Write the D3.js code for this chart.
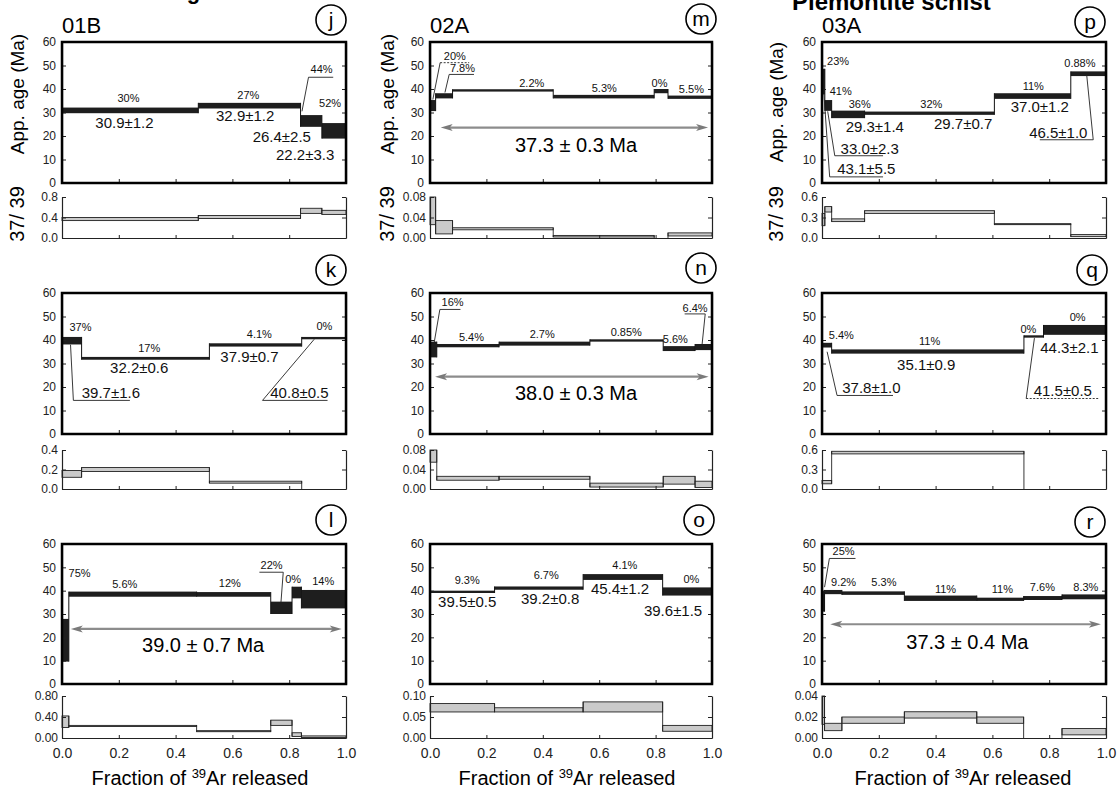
<!DOCTYPE html>
<html lang="en">
<head>
<meta charset="UTF-8" />
<title>39Ar-40Ar age spectra</title>
<script src="https://cdn.jsdelivr.net/npm/d3@7"></script>
<style>
  body { margin: 0; background: #fff; }
  svg { font-family: "Liberation Sans", Arial, Helvetica, sans-serif; }
</style>
</head>
<body>
<script>

// ---- data: cumulative 39Ar fraction, age boxes (Ma), 37/39 boxes, labels ----

// 01B (j)
var fracJ  = [0, 0.48, 0.84, 0.915, 1];
var ageJ   = [[29.7, 32.1], [31.7, 34.1], [23.9, 28.9], [18.9, 25.5]];
var ratioJ = [[0.34, 0.40], [0.38, 0.44], [0.48, 0.58], [0.46, 0.54]];
var rTicksJ = [0, 0.4, 0.8];
var pctJ  = ["30%", "27%", "44%", "52%"];
var agesJ = ["30.9±1.2", "32.9±1.2", "26.4±2.5", "22.2±3.3"];

// 02A (m)
var fracM  = [0, 0.02, 0.08, 0.437, 0.795, 0.844, 1];
var ageM   = [[30.6, 35.3], [36.0, 38.2], [38.9, 39.9], [36.0, 37.5], [38.2, 40.0], [35.8, 37.2]];
var ratioM = [[0.026, 0.080], [0.008, 0.034], [0.016, 0.020], [0.002, 0.005], [0, 0], [0.004, 0.010]];
var rTicksM = [0, 0.04, 0.08];
var pctM  = ["20%", "7.8%", "2.2%", "5.3%", "0%", "5.5%"];
var agesM = [];
var plateauM = "37.3 ± 0.3 Ma";

// 03A (p)
var fracP  = [0, 0.01, 0.034, 0.15, 0.607, 0.876, 1];
var ageP   = [[37.6, 48.6], [30.7, 35.3], [27.6, 30.8], [29.0, 30.4], [35.8, 38.2], [45.5, 47.5]];
var ratioP = [[0.18, 0.36], [0.38, 0.46], [0.24, 0.28], [0.36, 0.40], [0.20, 0.21], [0.02, 0.05]];
var rTicksP = [0, 0.3, 0.6];
var pctP  = ["23%", "41%", "36%", "32%", "11%", "0.88%"];
var agesP = ["43.1±5.5", "33.0±2.3", "29.3±1.4", "29.7±0.7", "37.0±1.2", "46.5±1.0"];

// 01B (k)
var fracK  = [0, 0.069, 0.519, 0.844, 1];
var ageK   = [[38.1, 41.3], [31.6, 32.8], [37.2, 38.6], [40.3, 41.3]];
var ratioK = [[0.12, 0.19], [0.18, 0.22], [0.06, 0.08], [0, 0]];
var rTicksK = [0, 0.2, 0.4];
var pctK  = ["37%", "17%", "4.1%", "0%"];
var agesK = ["39.7±1.6", "32.2±0.6", "37.9±0.7", "40.8±0.5"];

// 02A (n)
var fracN  = [0, 0.024, 0.245, 0.567, 0.827, 0.94, 1];
var ageN   = [[32.6, 39.3], [36.9, 38.3], [37.6, 39.3], [39.3, 40.3], [35.3, 37.4], [35.7, 38.3]];
var ratioN = [[0.055, 0.080], [0.018, 0.026], [0.020, 0.026], [0.004, 0.012], [0.010, 0.026], [0.003, 0.016]];
var rTicksN = [0, 0.04, 0.08];
var pctN  = ["16%", "5.4%", "2.7%", "0.85%", "5.6%", "6.4%"];
var agesN = [];
var plateauN = "38.0 ± 0.3 Ma";

// 03A (q)
var fracQ  = [0, 0.034, 0.711, 0.78, 1];
var ageQ   = [[36.8, 38.8], [34.2, 36.0], [41.0, 42.0], [42.2, 46.4]];
var ratioQ = [[0.08, 0.13], [0.54, 0.58], [0, 0], [0, 0]];
var rTicksQ = [0, 0.3, 0.6];
var pctQ  = ["5.4%", "11%", "0%", "0%"];
var agesQ = ["37.8±1.0", "35.1±0.9", "41.5±0.5", "44.3±2.1"];

// 01B (l)
var fracL  = [0, 0.024, 0.474, 0.735, 0.81, 0.843, 1];
var ageL   = [[9.6, 27.9], [37.4, 39.6], [37.4, 39.4], [30.0, 35.3], [36.7, 41.7], [32.4, 40.3]];
var ratioL = [[0.20, 0.42], [0.22, 0.24], [0.12, 0.14], [0.24, 0.34], [0.03, 0.10], [0.01, 0.04]];
var rTicksL = [0, 0.4, 0.8];
var pctL  = ["75%", "5.6%", "12%", "22%", "0%", "14%"];
var agesL = [];
var plateauL = "39.0 ± 0.7 Ma";

// 02A (o)
var fracO  = [0, 0.229, 0.543, 0.825, 1];
var ageO   = [[39.0, 40.0], [40.4, 41.8], [44.6, 47.1], [37.9, 41.4]];
var ratioO = [[0.062, 0.082], [0.062, 0.072], [0.062, 0.086], [0.016, 0.030]];
var rTicksO = [0, 0.05, 0.10];
var pctO  = ["9.3%", "6.7%", "4.1%", "0%"];
var agesO = ["39.5±0.5", "39.2±0.8", "45.4±1.2", "39.6±1.5"];

// 03A (r)
var fracR  = [0, 0.009, 0.07, 0.29, 0.545, 0.71, 0.845, 1];
var ageR   = [[31.0, 40.0], [38.5, 40.3], [38.2, 39.7], [35.6, 37.9], [35.6, 37.0], [36.0, 37.7], [36.3, 38.4]];
var ratioR = [[0.013, 0.040], [0.007, 0.014], [0.014, 0.020], [0.019, 0.025], [0.014, 0.020], [0, 0], [0.003, 0.009]];
var rTicksR = [0, 0.02, 0.04];
var pctR  = ["25%", "9.2%", "5.3%", "11%", "11%", "7.6%", "8.3%"];
var agesR = [];
var plateauR = "37.3 ± 0.4 Ma";

var ageTicks = [0, 10, 20, 30, 40, 50, 60];
var fracTicks = [0, 0.2, 0.4, 0.6, 0.8, 1.0];
var samples = ["01B", "02A", "03A"];

// ---- layout ----
var colX = [[62, 346], [430, 712], [822, 1106]];
var ageY = [[42, 183], [293, 434], [544, 684]];
var ratY = [[197, 238], [450, 489], [696, 738]];
var ylabX = [24, 394, 783];
var axCenter = [200, 567, 963];

// label placement in data units: [kind, index, frac, age, options]
// kind p = percent label, a = age label; u = underline [x0,x1,age], l = leader [x0,a0,x1,a1]
var notesJ = [["p",0,0.234,34.3],["a",0,0.22,23.2],["p",1,0.656,35.8],["a",1,0.645,26.5],
  ["p",2,0.914,46.7,{u:[0.868,0.955,45.0], l:[0.868,45.0,0.845,30.5]}],
  ["p",3,0.944,32.5],["a",2,0.774,17.5],["a",3,0.856,9.7]];
var notesM = [["p",0,0.088,52.3,{u:[0.036,0.139,51.2], l:[0.036,51.2,0.01,35.5], d:true}],
  ["p",1,0.115,47.2,{u:[0.068,0.156,46.2], l:[0.068,46.2,0.053,38.5]}],
  ["p",2,0.361,40.7],["p",3,0.618,38.9],["p",4,0.814,41],["p",5,0.927,38.5]];
var notesP = [["p",0,0.018,50.4,{a:"start"}],["p",1,0.027,37.4,{a:"start"}],["p",2,0.133,31.9],
  ["p",3,0.385,31.9],["p",4,0.744,39.4],["p",5,0.908,49.4],
  ["a",0,0.156,3.7,{u:[0.027,0.215,2.6], l:[0.027,2.6,0.007,37.5]}],
  ["a",1,0.168,12.3,{u:[0.045,0.215,11.6], l:[0.045,11.6,0.02,30.5]}],
  ["a",2,0.186,21.7],["a",3,0.497,23.1],["a",4,0.767,30.2],
  ["a",5,0.832,19.1,{u:[0.767,0.955,18.4], l:[0.955,18.4,0.932,46]}]];
var notesK = [["p",0,0.065,43.7],["p",1,0.307,35],["p",2,0.695,40.7],["p",3,0.924,44.2],
  ["a",0,0.172,15.3,{u:[0.04,0.239,14.3], l:[0.04,14.3,0.03,38]}],
  ["a",1,0.272,25.8],["a",2,0.66,30.8],
  ["a",3,0.836,15.3,{u:[0.706,0.935,14.3], l:[0.706,14.3,0.888,40.3]}]];
var notesN = [["p",0,0.08,54.4,{u:[0.035,0.108,53], l:[0.035,53,0.014,38.3]}],
  ["p",1,0.147,39.7],["p",2,0.398,40.7],["p",3,0.696,41.8],["p",4,0.87,38.6],
  ["p",5,0.94,52,{u:[0.903,0.976,51.1], l:[0.976,51.1,0.965,38.3]}]];
var notesQ = [["p",0,0.068,40.4],["p",1,0.379,38],["p",2,0.727,43],["p",3,0.9,47.9],
  ["a",0,0.174,17.4,{u:[0.053,0.25,16.4], l:[0.053,16.4,0.018,35]}],
  ["a",1,0.367,27.4],
  ["a",2,0.848,16.3,{u:[0.719,0.976,15.1], l:[0.719,15.1,0.748,40.8], d:true}],
  ["a",3,0.871,34.5]];
var notesL = [["p",0,0.062,46],["p",1,0.221,41],["p",2,0.591,41.4],
  ["p",3,0.738,49.1,{u:[0.695,0.779,47.9], l:[0.779,47.9,0.771,35]}],
  ["p",4,0.814,43.1],["p",5,0.92,42.4]];
var notesO = [["p",0,0.132,42.9],["p",1,0.412,44.9],["p",2,0.691,49.1],["p",3,0.927,43.1],
  ["a",0,0.132,32.9],["a",1,0.426,34.3],["a",2,0.674,38.4],["a",3,0.862,29.1]];
var notesR = [["p",0,0.076,55.3,{u:[0.026,0.118,53.8], l:[0.026,53.8,0.009,41.5]}],
  ["p",1,0.076,41.9],["p",2,0.218,41.9],["p",3,0.435,39.2],["p",4,0.635,39.2],
  ["p",5,0.776,39.9],["p",6,0.929,39.9]];

var panels = [
  {tag:"j", col:0, row:0, frac:fracJ, age:ageJ, ratio:ratioJ, rt:rTicksJ, fmt:".1f", pct:pctJ, ages:agesJ, notes:notesJ},
  {tag:"m", col:1, row:0, frac:fracM, age:ageM, ratio:ratioM, rt:rTicksM, fmt:".2f", pct:pctM, ages:agesM, notes:notesM,
    plateau:plateauM, pl:{y:23.6, x0:0.038, x1:0.986, tx:0.518, ty:13.2}},
  {tag:"p", col:2, row:0, frac:fracP, age:ageP, ratio:ratioP, rt:rTicksP, fmt:".1f", pct:pctP, ages:agesP, notes:notesP},
  {tag:"k", col:0, row:1, frac:fracK, age:ageK, ratio:ratioK, rt:rTicksK, fmt:".1f", pct:pctK, ages:agesK, notes:notesK},
  {tag:"n", col:1, row:1, frac:fracN, age:ageN, ratio:ratioN, rt:rTicksN, fmt:".2f", pct:pctN, ages:agesN, notes:notesN,
    plateau:plateauN, pl:{y:24.4, x0:0.018, x1:0.988, tx:0.518, ty:14.5}},
  {tag:"q", col:2, row:1, frac:fracQ, age:ageQ, ratio:ratioQ, rt:rTicksQ, fmt:".1f", pct:pctQ, ages:agesQ, notes:notesQ},
  {tag:"l", col:0, row:2, frac:fracL, age:ageL, ratio:ratioL, rt:rTicksL, fmt:".2f", pct:pctL, ages:agesL, notes:notesL,
    plateau:plateauL, pl:{y:23.6, x0:0.031, x1:0.985, tx:0.497, ty:13.6}},
  {tag:"o", col:1, row:2, frac:fracO, age:ageO, ratio:ratioO, rt:rTicksO, fmt:".2f", pct:pctO, ages:agesO, notes:notesO},
  {tag:"r", col:2, row:2, frac:fracR, age:ageR, ratio:ratioR, rt:rTicksR, fmt:".2f", pct:pctR, ages:agesR, notes:notesR,
    plateau:plateauR, pl:{y:25.6, x0:0.029, x1:0.982, tx:0.512, ty:15}}
];

var tagXY = {j:[331,20], m:[701,19], p:[1090,22], k:[331,270], n:[701,268], q:[1092,270], l:[331,520], o:[699,520], r:[1090,522]};

var svg = d3.select("body").append("svg")
  .attr("width", 1120)
  .attr("height", 793);

// cut-off headings at the very top of the scan
svg.append("text").attr("x", 133).attr("y", -1).attr("font-size", 22).attr("font-weight", "bold").text("Phengite schist");
svg.append("text").attr("x", 792).attr("y", 10).attr("font-size", 24).attr("font-weight", "bold").text("Piemontite schist");

samples.forEach(function(s, i) {
  svg.append("text").attr("x", colX[i][0]).attr("y", 33).attr("font-size", 22).text(s);
  svg.append("text")
    .attr("transform", "translate(" + ylabX[i] + "," + (i == 2 ? 102 : 94) + ") rotate(-90)")
    .attr("text-anchor", "middle").attr("font-size", 19).text("App. age (Ma)");
  svg.append("text")
    .attr("transform", "translate(" + ylabX[i] + "," + 214 + ") rotate(-90)")
    .attr("text-anchor", "middle").attr("font-size", 20).text("37/ 39");
  var t = svg.append("text").attr("x", axCenter[i]).attr("y", 785)
    .attr("text-anchor", "middle").attr("font-size", 20);
  t.append("tspan").text("Fraction of ");
  t.append("tspan").attr("font-size", 13).attr("dy", -7).text("39");
  t.append("tspan").attr("dy", 7).text("Ar released");
});

panels.forEach(drawPanel);

function drawPanel(p) {
  var x = d3.scaleLinear().domain([0, 1]).range(colX[p.col]);
  var y = d3.scaleLinear().domain([0, 60]).range([ageY[p.row][1], ageY[p.row][0]]);
  var yr = d3.scaleLinear().domain([0, p.rt[2]]).range([ratY[p.row][1], ratY[p.row][0]]);
  var g = svg.append("g");

  // --- age spectrum ---
  var steps = p.age.map(function(a, i) {
    return {x0: p.frac[i], x1: p.frac[i + 1], lo: a[0], hi: a[1]};
  });
  g.selectAll(".age").data(steps).enter().append("rect")
    .attr("x", function(d) { return x(d.x0); })
    .attr("width", function(d) { return x(d.x1) - x(d.x0); })
    .attr("y", function(d) { return y(d.hi); })
    .attr("height", function(d) { return Math.max(1.5, y(d.lo) - y(d.hi)); })
    .attr("fill", "#1e1e1e");
  g.selectAll(".conn").data(steps.slice(1)).enter().append("line")
    .attr("x1", function(d) { return x(d.x0); })
    .attr("x2", function(d) { return x(d.x0); })
    .attr("y1", function(d, i) { return y(Math.min(d.lo, steps[i].lo)); })
    .attr("y2", function(d, i) { return y(Math.max(d.hi, steps[i].hi)); })
    .attr("stroke", "#111").attr("stroke-width", 1);

  // frame + inward ticks
  g.append("g").attr("transform", "translate(" + colX[p.col][0] + ",0)")
    .call(d3.axisLeft(y).tickValues(ageTicks).tickSizeInner(-4).tickSizeOuter(0).tickPadding(6))
    .call(styleAxis);
  g.append("g").attr("transform", "translate(" + colX[p.col][1] + ",0)")
    .call(d3.axisRight(y).tickValues(ageTicks).tickSizeInner(-4).tickSizeOuter(0).tickFormat(""))
    .call(styleAxis);
  g.append("g").attr("transform", "translate(0," + ageY[p.row][1] + ")")
    .call(d3.axisBottom(x).tickValues(fracTicks).tickSizeInner(-4).tickSizeOuter(0).tickFormat(""))
    .call(styleAxis);
  g.append("rect")
    .attr("x", colX[p.col][0]).attr("y", ageY[p.row][0])
    .attr("width", colX[p.col][1] - colX[p.col][0])
    .attr("height", ageY[p.row][1] - ageY[p.row][0])
    .attr("fill", "none").attr("stroke", "#000").attr("stroke-width", 2.5);

  // labels
  p.notes.forEach(function(n) {
    var o = n[4] || {};
    g.append("text")
      .attr("x", x(n[2])).attr("y", y(n[3]))
      .attr("text-anchor", o.a || "middle")
      .attr("font-size", n[0] == "p" ? 11 : 15)
      .attr("fill", "#111")
      .text(n[0] == "p" ? p.pct[n[1]] : p.ages[n[1]]);
    if (o.u) {
      g.append("line")
        .attr("x1", x(o.u[0])).attr("x2", x(o.u[1]))
        .attr("y1", y(o.u[2])).attr("y2", y(o.u[2]))
        .attr("stroke", "#222").attr("stroke-width", 0.9)
        .attr("stroke-dasharray", o.d ? "2,1.5" : null);
    }
    if (o.l) {
      g.append("line")
        .attr("x1", x(o.l[0])).attr("y1", y(o.l[1]))
        .attr("x2", x(o.l[2])).attr("y2", y(o.l[3]))
        .attr("stroke", "#222").attr("stroke-width", 0.9);
    }
  });

  // plateau arrow
  if (p.plateau) {
    var a0 = x(p.pl.x0), a1 = x(p.pl.x1), ay = y(p.pl.y);
    g.append("line")
      .attr("x1", a0 + 8).attr("x2", a1 - 8).attr("y1", ay).attr("y2", ay)
      .attr("stroke", "#8c8c8c").attr("stroke-width", 2.2);
    g.append("path")
      .attr("d", "M" + a0 + "," + ay + "L" + (a0 + 12) + "," + (ay - 3.5) + "L" + (a0 + 9) + "," + ay +
        "L" + (a0 + 12) + "," + (ay + 3.5) + "Z")
      .attr("fill", "#7a7a7a");
    g.append("path")
      .attr("d", "M" + a1 + "," + ay + "L" + (a1 - 12) + "," + (ay - 3.5) + "L" + (a1 - 9) + "," + ay +
        "L" + (a1 - 12) + "," + (ay + 3.5) + "Z")
      .attr("fill", "#7a7a7a");
    g.append("text")
      .attr("x", x(p.pl.tx)).attr("y", y(p.pl.ty))
      .attr("text-anchor", "middle").attr("font-size", 20)
      .text(p.plateau);
  }

  // --- 37/39 ratio ---
  var rsteps = p.ratio.map(function(a, i) {
    return {x0: p.frac[i], x1: p.frac[i + 1], lo: a[0], hi: a[1]};
  });
  g.selectAll(".rat").data(rsteps.filter(function(d) { return d.hi > 0; })).enter().append("rect")
    .attr("x", function(d) { return x(d.x0); })
    .attr("width", function(d) { return x(d.x1) - x(d.x0); })
    .attr("y", function(d) { return yr(d.hi); })
    .attr("height", function(d) { return Math.max(1, yr(d.lo) - yr(d.hi)); })
    .attr("fill", "#cacaca").attr("stroke", "#222").attr("stroke-width", 0.9);
  g.selectAll(".rconn").data(rsteps.slice(1)).enter().append("line")
    .attr("x1", function(d) { return x(d.x0); })
    .attr("x2", function(d) { return x(d.x0); })
    .attr("y1", function(d, i) { return yr(Math.min(d.lo, rsteps[i].lo)); })
    .attr("y2", function(d, i) { return yr(Math.max(d.hi, rsteps[i].hi)); })
    .attr("stroke", "#222").attr("stroke-width", 0.9);

  g.append("g").attr("transform", "translate(" + colX[p.col][0] + ",0)")
    .call(d3.axisLeft(yr).tickValues(p.rt).tickFormat(d3.format(p.fmt)).tickSizeInner(-4).tickSizeOuter(0).tickPadding(4))
    .call(styleAxis);
  g.append("g").attr("transform", "translate(" + colX[p.col][1] + ",0)")
    .call(d3.axisRight(yr).tickValues(p.rt).tickSizeInner(-4).tickSizeOuter(0).tickFormat(""))
    .call(styleAxis);
  var bx = g.append("g").attr("transform", "translate(0," + ratY[p.row][1] + ")")
    .call(d3.axisBottom(x).tickValues(fracTicks).tickSizeInner(-3).tickSizeOuter(0)
      .tickFormat(p.row == 2 ? d3.format(".1f") : "").tickPadding(10))
    .call(styleAxis);
  bx.selectAll("text").attr("font-size", 14);

  // panel letter
  var c = tagXY[p.tag];
  g.append("circle").attr("cx", c[0]).attr("cy", c[1]).attr("r", 15)
    .attr("fill", "none").attr("stroke", "#000").attr("stroke-width", 1.6);
  g.append("text").attr("x", c[0]).attr("y", c[1] + 7)
    .attr("text-anchor", "middle").attr("font-size", 21).text(p.tag);
}

function styleAxis(sel) {
  sel.attr("font-family", null).attr("font-size", 12);
  sel.select(".domain").attr("stroke", "#222").attr("stroke-width", 1.2);
  sel.selectAll(".tick line").attr("stroke", "#222").attr("stroke-width", 1);
  sel.selectAll(".tick text").attr("fill", "#222");
}

</script>
</body>
</html>
